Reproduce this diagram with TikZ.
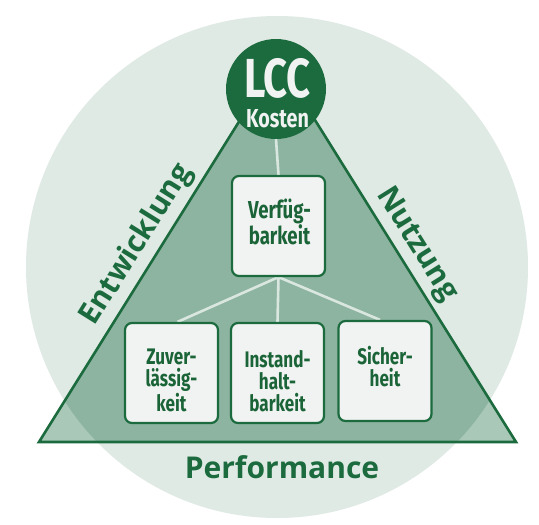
\documentclass[tikz,border=0pt]{standalone}
\usepackage{fontspec}
\newfontfamily\condfont{Fira Sans}[FakeStretch=0.76]
\newfontfamily\headfont{Open Sans}
\usetikzlibrary{calc}
\definecolor{bgc}{HTML}{DFEAE4}
\definecolor{triin}{HTML}{8DB4A0}
\definecolor{triout}{HTML}{A9C8B7}
\definecolor{dgreen}{HTML}{1B6B3E}
\definecolor{tgreen}{HTML}{1A6438}
\definecolor{boxfill}{HTML}{F1F3F2}
\definecolor{connc}{HTML}{DAE7E0}
\pgfdeclarelayer{bglayer}
\pgfdeclarelayer{linelayer}
\pgfsetlayers{bglayer,linelayer,main}
\begin{document}
\begin{tikzpicture}[x=1pt,y=-1pt,
  box/.style={draw=dgreen, line width=2.2pt, fill=boxfill, rounded corners=7pt,
    minimum width=93pt, minimum height=100pt, inner sep=0pt},
  boxtext/.style={text=tgreen, align=center, anchor=base, inner sep=0pt,
    font=\condfont\bfseries\fontsize{22.5}{22}\selectfont},
  conn/.style={draw=connc, line width=2.6pt},
  side/.style={text=dgreen, anchor=base, inner sep=0pt,
    font=\headfont\bfseries\fontsize{30}{30}\selectfont}]
\useasboundingbox (0,0) rectangle (539,525);
\begin{pgfonlayer}{bglayer}
\fill[white] (0,0) rectangle (539,525);
\fill[bgc] (277,267) circle[radius=251pt];
\coordinate (A) at (277.5,60);
\coordinate (BL) at (39,442);
\coordinate (BR) at (516,442);
\fill[triout] (A) -- (BL) -- (BR) -- cycle;
\begin{scope}
  \clip (277,267) circle[radius=251pt];
  \fill[triin] (A) -- (BL) -- (BR) -- cycle;
\end{scope}
\draw[dgreen, line width=2.6pt, line join=miter] (A) -- (BL) -- (BR) -- cycle;
\end{pgfonlayer}

\node[circle, fill=dgreen, minimum size=100pt, inner sep=0pt] (lcc) at (276,89) {};
\node[box] (verf) at (278.5,226) {};
\node[box] (zuv) at (171.5,373) {};
\node[box] (inst) at (277.5,373) {};
\node[box] (sich) at (385,371) {};

\begin{pgfonlayer}{linelayer}
\draw[conn] (lcc.south) -- (verf.north);
\draw[conn] (verf.south) -- ($(zuv.north)+(6,0)$);
\draw[conn] (verf.south) -- (inst.north);
\draw[conn] (verf.south) -- ($(sich.north)+(-5,0)$);
\end{pgfonlayer}

\node[anchor=base, inner sep=0pt, text=boxfill, font=\condfont\bfseries\fontsize{55}{55}\selectfont] (lcct) at (277.5,97) {LCC};
\node[anchor=base, inner sep=0pt, text=boxfill, font=\condfont\bfseries\fontsize{26}{26}\selectfont] (kost) at (277.5,127) {Kosten};

\node[boxtext, font=\condfont\bfseries\fontsize{24.5}{25.5}\selectfont] (verft) at (279.5,244) {Verfüg-\\barkeit};
\node[boxtext] (zuvt) at (171.5,411) {Zuver-\\lässig-\\keit};
\node[boxtext] (instt) at (277.5,411) {Instand-\\halt-\\barkeit};
\node[boxtext] (sicht) at (385,386) {Sicher-\\heit};

\node[side, rotate=58] (entw) at (143.6,249) {Entwicklung};
\node[side, rotate=-58] (nutz) at (410.2,248.4) {Nutzung};
\node[side] (perf) at (282,478) {Performance};
\end{tikzpicture}
\end{document}
